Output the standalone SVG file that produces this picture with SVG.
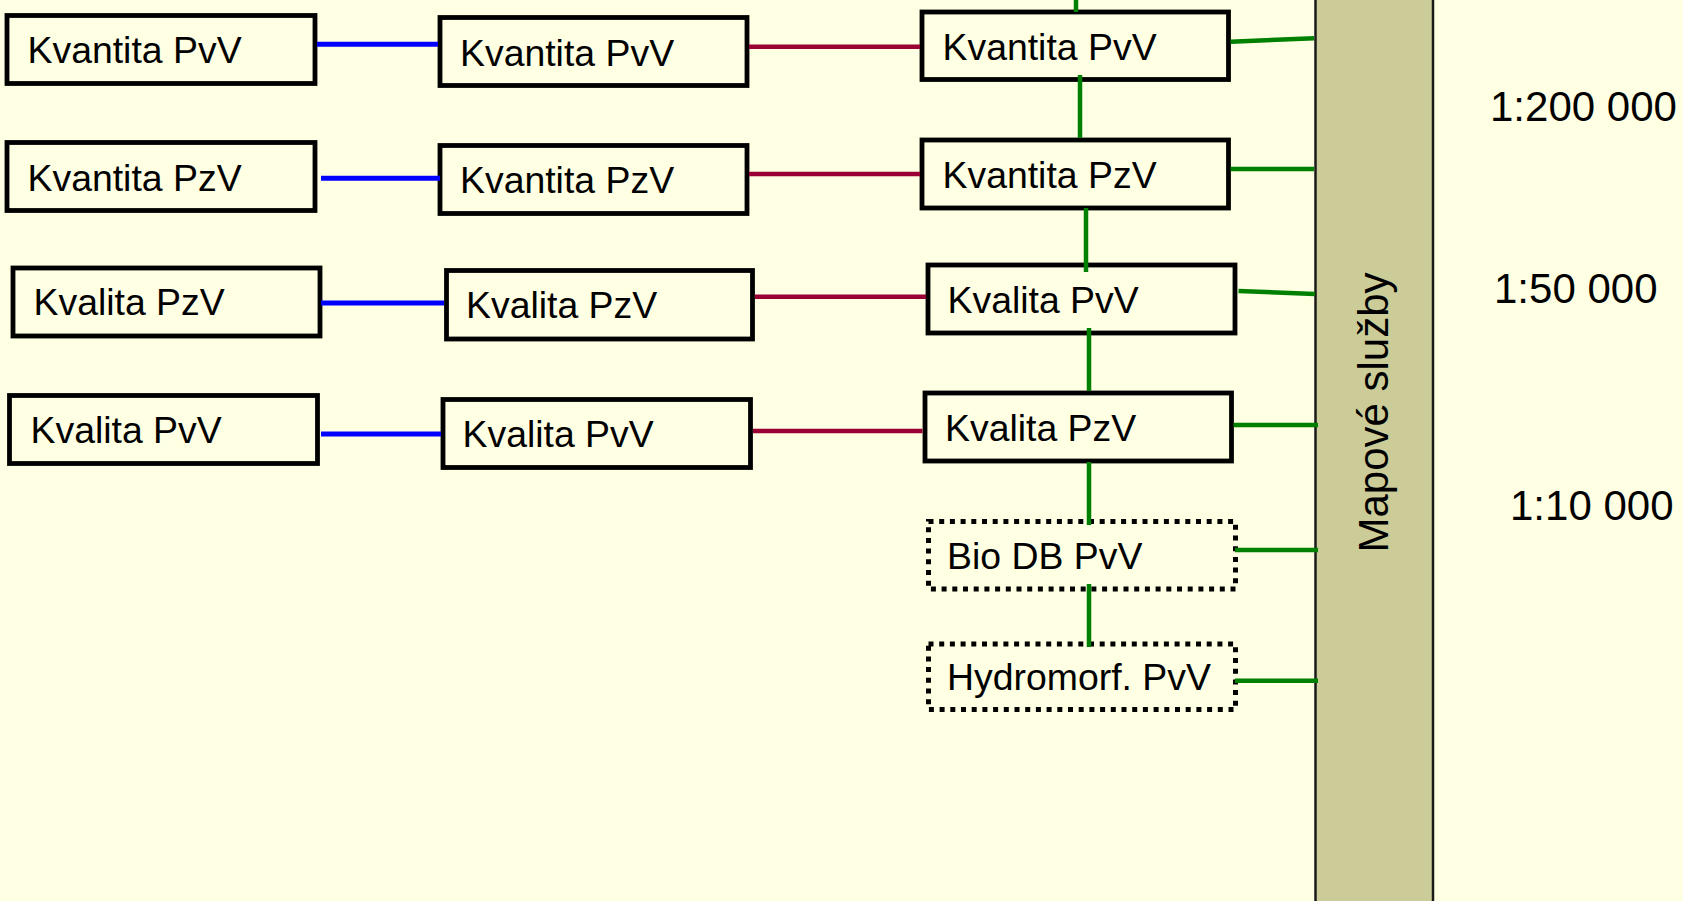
<svg xmlns="http://www.w3.org/2000/svg" width="1683" height="901" viewBox="0 0 1683 901">
<style>
.box{fill:#ffffe3;stroke:#000;stroke-width:4.8}
.dot{fill:#ffffe3;stroke:#000;stroke-width:5;stroke-dasharray:5 5.7}
.t{font-family:"Liberation Sans",Arial,sans-serif;font-size:37.4px;fill:#000}
.s{font-family:"Liberation Sans",Arial,sans-serif;font-size:42px;fill:#000}
.b{stroke:#0000ff;stroke-width:5;fill:none}
.r{stroke:#990033;stroke-width:4.5;fill:none}
.g{stroke:#008000;stroke-width:4.5;fill:none}
</style>
<rect x="0" y="0" width="1683" height="901" fill="#ffffe3"/>
<g id="band">
<rect x="1315.5" y="-5" width="117.5" height="911" fill="#cccc99" stroke="#1a1a1a" stroke-width="2.5"/>
<text class="s" text-anchor="middle" transform="translate(1388,412.5) rotate(-90)">Mapové služby</text>
</g>
<g id="A1"><rect class="box" x="7" y="15.5" width="308" height="68"/><text class="t" x="27.5" y="63">Kvantita PvV</text></g>
<g id="A2"><rect class="box" x="7" y="142.5" width="308" height="68"/><text class="t" x="27.5" y="191">Kvantita PzV</text></g>
<g id="A3"><rect class="box" x="13" y="268" width="307" height="68"/><text class="t" x="33.5" y="315">Kvalita PzV</text></g>
<g id="A4"><rect class="box" x="9.5" y="395.5" width="308" height="68"/><text class="t" x="30.5" y="443">Kvalita PvV</text></g>
<g id="B1"><rect class="box" x="440" y="17.5" width="307" height="68"/><text class="t" x="460" y="66">Kvantita PvV</text></g>
<g id="B2"><rect class="box" x="440" y="145.5" width="307" height="68"/><text class="t" x="460" y="193">Kvantita PzV</text></g>
<g id="B3"><rect class="box" x="446.5" y="270.5" width="306" height="68.5"/><text class="t" x="466" y="318">Kvalita PzV</text></g>
<g id="B4"><rect class="box" x="443" y="399.5" width="307.5" height="68"/><text class="t" x="462.5" y="447">Kvalita PvV</text></g>
<g id="C1"><rect class="box" x="922" y="12" width="306.5" height="67.5"/><text class="t" x="942.5" y="60">Kvantita PvV</text></g>
<g id="C2"><rect class="box" x="922" y="140" width="306.5" height="68"/><text class="t" x="942.5" y="188">Kvantita PzV</text></g>
<g id="C3"><rect class="box" x="928" y="265" width="307" height="68"/><text class="t" x="947.5" y="312.5">Kvalita PvV</text></g>
<g id="C4"><rect class="box" x="925" y="393" width="306.5" height="68"/><text class="t" x="945" y="441">Kvalita PzV</text></g>
<g id="C5"><rect class="dot" x="928.5" y="521.5" width="307" height="67.5"/><text class="t" x="947" y="568.5">Bio DB PvV</text></g>
<g id="C6"><rect class="dot" x="928.5" y="644" width="307" height="65.5"/><text class="t" x="947" y="690">Hydromorf. PvV</text></g>
<g id="scales">
<text class="s" x="1490" y="120.7">1:200 000</text>
<text class="s" x="1494" y="303.3">1:50 000</text>
<text class="s" x="1510" y="520">1:10 000</text>
</g>
<g id="connectors">
<line class="b" x1="317" y1="44.2" x2="438" y2="44.2"/>
<line class="b" x1="321" y1="178.3" x2="440" y2="178.3"/>
<line class="b" x1="321" y1="303" x2="444" y2="303"/>
<line class="b" x1="321" y1="434" x2="441" y2="434"/>
<line class="r" x1="749" y1="46.7" x2="920" y2="46.7"/>
<line class="r" x1="749" y1="174" x2="920" y2="174"/>
<line class="r" x1="755" y1="296.7" x2="926" y2="296.7"/>
<line class="r" x1="753" y1="431" x2="922.5" y2="431"/>
<line class="g" x1="1076" y1="0" x2="1076" y2="12"/>
<line class="g" x1="1080" y1="75" x2="1080" y2="138"/>
<line class="g" x1="1086" y1="208" x2="1086" y2="272"/>
<line class="g" x1="1089" y1="328" x2="1089" y2="391"/>
<line class="g" x1="1089" y1="462" x2="1089" y2="525"/>
<line class="g" x1="1089" y1="584" x2="1089" y2="647"/>
<line class="g" stroke-width="5" x1="1230.6" y1="41.7" x2="1314" y2="38.3"/>
<line class="g" stroke-width="5" x1="1230.6" y1="169" x2="1314" y2="169"/>
<line class="g" stroke-width="5" x1="1238.5" y1="291" x2="1315" y2="294"/>
<line class="g" stroke-width="5" x1="1233.6" y1="425" x2="1318" y2="425"/>
<line class="g" stroke-width="5" x1="1235" y1="550" x2="1318" y2="550"/>
<line class="g" stroke-width="5" x1="1235" y1="680.7" x2="1318" y2="680.7"/>
</g>
</svg>
